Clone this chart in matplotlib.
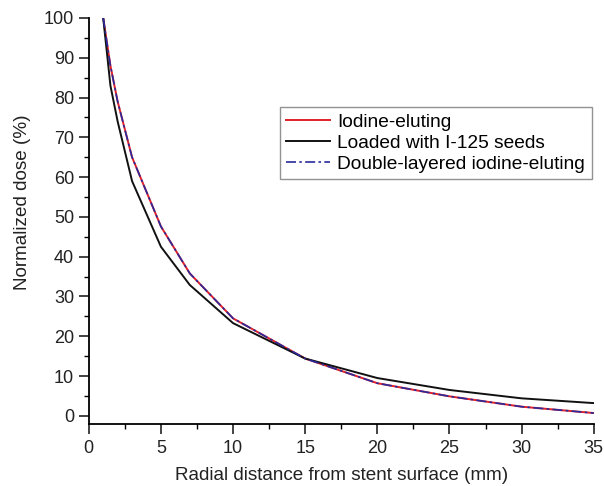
import matplotlib
matplotlib.use("Agg")
import matplotlib.pyplot as plt
from matplotlib.ticker import MultipleLocator

plt.rcParams['font.family'] = ['Liberation Sans', 'DejaVu Sans']

distance = [1, 1.5, 2, 3, 5, 7, 10, 15, 20, 25, 30, 35]
iodine = [100, 88, 79, 65, 47.6, 35.8, 24.5, 14.4, 8.2, 4.9, 2.3, 0.7]
seeds = [100, 83, 74, 59, 42.5, 32.9, 23.3, 14.4, 9.5, 6.5, 4.4, 3.2]
double = [100, 88, 79, 65, 47.6, 35.8, 24.5, 14.4, 8.2, 4.9, 2.3, 0.7]

fig = plt.figure(figsize=(6.04, 4.86), dpi=100)
ax = fig.add_axes([0.147, 0.128, 0.836, 0.835])

ax.plot(distance, iodine, color='#e0202a', lw=1.4, label='Iodine-eluting')
ax.plot(distance, seeds, color='#111111', lw=1.4, label='Loaded with I-125 seeds')
ax.plot(distance, double, color='#2a2a9a', lw=1.2, ls=(0, (6, 2, 1.5, 2)), label='Double-layered iodine-eluting')

ax.set_xlim(0, 35)
ax.set_ylim(-2, 100)
ax.xaxis.set_major_locator(MultipleLocator(5))
ax.xaxis.set_minor_locator(MultipleLocator(2.5))
ax.yaxis.set_minor_locator(MultipleLocator(5))
ax.set_yticks(range(0, 101, 10))

for s in ['top', 'right']:
    ax.spines[s].set_visible(False)
for s in ['left', 'bottom']:
    ax.spines[s].set_linewidth(1.3)
ax.tick_params(which='major', direction='out', length=7, width=1.2, labelsize=13, colors='#222222')
ax.tick_params(axis='x', which='major', pad=5)
ax.tick_params(which='minor', direction='out', length=3.5, width=1.0)

ax.set_xlabel('Radial distance from stent surface (mm)', fontsize=13.6, color='#222222', labelpad=7)
ax.set_ylabel('Normalized dose (%)', fontsize=13.6, color='#222222')
ax.yaxis.set_label_coords(-0.115, 0.545)

leg = ax.legend(loc='upper left', bbox_to_anchor=(0.378, 0.781), fontsize=13.8, frameon=True,
                fancybox=False, edgecolor='#777777', handlelength=2.3, handletextpad=0.35,
                borderpad=0.35, labelspacing=0.18, borderaxespad=0)
leg.get_frame().set_linewidth(1.0)

fig.savefig('out.png', dpi=100)
